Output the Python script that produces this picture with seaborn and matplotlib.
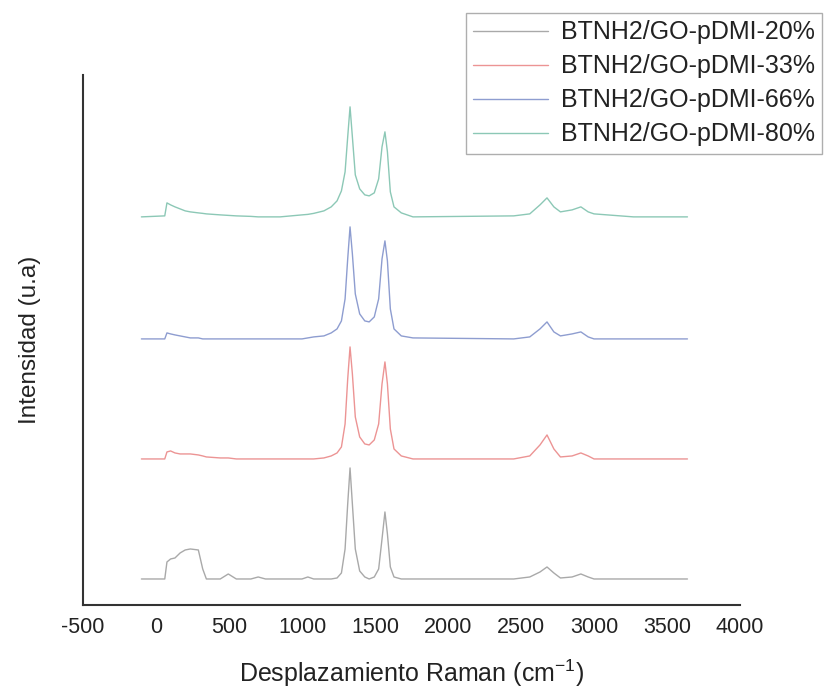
import numpy as np
import pandas as pd
import matplotlib
matplotlib.use("Agg")
import matplotlib.pyplot as plt
import seaborn as sns

# Raman shift grid (cm-1) shared by the four spectra
shift = [-100, 60, 75, 100, 130, 165, 200, 235, 290, 320, 345, 440, 495, 550, 650, 700,
         750, 850, 1000, 1040, 1080, 1150, 1200, 1240, 1270, 1295, 1313, 1329, 1345, 1365,
         1395, 1430, 1460, 1495, 1525, 1548, 1568, 1585, 1605, 1630, 1680, 1760, 2450, 2560,
         2630, 2678, 2725, 2770, 2850, 2910, 2960, 3000, 3270, 3640]

# intensities (above each baseline)
int_20 = [0, 0, 0.17, 0.20, 0.21, 0.26, 0.29, 0.30, 0.29, 0.10, 0, 0, 0.05, 0, 0, 0.02,
          0, 0, 0, 0.02, 0, 0, 0, 0.01, 0.06, 0.30, 0.75, 1.11, 0.75, 0.30,
          0.08, 0.02, 0.0, 0.02, 0.10, 0.40, 0.67, 0.45, 0.12, 0.02, 0, 0, 0, 0.02,
          0.07, 0.12, 0.06, 0.01, 0.02, 0.05, 0.02, 0, 0, 0]
int_33 = [0, 0, 0.07, 0.08, 0.06, 0.05, 0.05, 0.05, 0.04, 0.03, 0.02, 0.01, 0.01, 0, 0, 0,
          0, 0, 0, 0, 0, 0.01, 0.03, 0.06, 0.12, 0.35, 0.80, 1.12, 0.85, 0.42,
          0.22, 0.15, 0.14, 0.19, 0.35, 0.75, 0.97, 0.75, 0.30, 0.10, 0.03, 0, 0, 0.03,
          0.14, 0.24, 0.10, 0.02, 0.03, 0.06, 0.03, 0, 0, 0]
int_66 = [0, 0, 0.06, 0.05, 0.04, 0.03, 0.02, 0.01, 0.01, 0, 0, 0, 0, 0, 0, 0,
          0, 0, 0, 0.01, 0.02, 0.03, 0.06, 0.10, 0.18, 0.40, 0.80, 1.12, 0.85, 0.45,
          0.25, 0.18, 0.17, 0.22, 0.40, 0.80, 0.98, 0.78, 0.30, 0.10, 0.03, 0.01, 0, 0.02,
          0.10, 0.17, 0.07, 0.03, 0.05, 0.07, 0.02, 0, 0, 0]
int_80 = [0, 0.01, 0.14, 0.12, 0.10, 0.08, 0.06, 0.05, 0.04, 0.035, 0.03, 0.02, 0.015, 0.01, 0.005, 0,
          0, 0, 0.02, 0.025, 0.035, 0.06, 0.10, 0.16, 0.26, 0.45, 0.80, 1.10, 0.80, 0.42,
          0.28, 0.22, 0.21, 0.24, 0.38, 0.70, 0.85, 0.65, 0.25, 0.10, 0.04, 0, 0.01, 0.03,
          0.12, 0.19, 0.10, 0.05, 0.07, 0.10, 0.05, 0.03, 0, 0]

labels = ["BTNH2/GO-pDMI-20%", "BTNH2/GO-pDMI-33%", "BTNH2/GO-pDMI-66%", "BTNH2/GO-pDMI-80%"]
offsets = [0, 1.2, 2.4, 3.62]
colors = ["#a9a9a9", "#ec9494", "#8e9dd0", "#8cc8b6"]

frames = []
for lab, vals, off in zip(labels, [int_20, int_33, int_66, int_80], offsets):
    frames.append(pd.DataFrame({"shift": shift,
                                "intensity": np.array(vals) + off,
                                "sample": lab}))
df = pd.concat(frames, ignore_index=True)

sns.set_style("white")
plt.rcParams["font.family"] = ["Liberation Sans", "DejaVu Sans"]
plt.rcParams["axes.unicode_minus"] = False
plt.rcParams["mathtext.fontset"] = "custom"
plt.rcParams["mathtext.rm"] = "Liberation Sans"
plt.rcParams["mathtext.it"] = "Liberation Sans:italic"

fig = plt.figure(figsize=(8.25, 6.93), dpi=100)
ax = fig.add_axes([0.1006, 0.127, 0.7964, 0.765])

sns.lineplot(data=df, x="shift", y="intensity", hue="sample", palette=colors,
             sort=False, estimator=None, linewidth=1.0, ax=ax)

ax.set_xlim(-500, 4000)
ax.set_ylim(-0.26, 5.04)
ax.set_xticks(np.arange(-500, 4001, 500))
ax.set_yticks([])
ax.tick_params(axis="x", length=0, labelsize=15.5, pad=9, colors="#222222")
for side in ["top", "right"]:
    ax.spines[side].set_visible(False)
for side in ["left", "bottom"]:
    ax.spines[side].set_color("#333333")
    ax.spines[side].set_linewidth(1.5)

ax.set_xlabel("Desplazamiento Raman (cm$^{-1}$)", fontsize=18, labelpad=14, color="#222222")
ax.set_ylabel("Intensidad (u.a)", fontsize=17.5, labelpad=30, color="#222222")

sns.move_legend(ax, loc="upper right", bbox_to_anchor=(1.125, 1.117), title=None,
                fontsize=18, frameon=True, fancybox=False, handlelength=3.0,
                handletextpad=0.5, labelspacing=0.4, borderpad=0.3, borderaxespad=0)
leg = ax.get_legend()
leg.get_frame().set_edgecolor("#9a9a9a")
leg.get_frame().set_linewidth(1.0)
for t in leg.get_texts():
    t.set_color("#222222")

fig.savefig("out.png", dpi=100)
